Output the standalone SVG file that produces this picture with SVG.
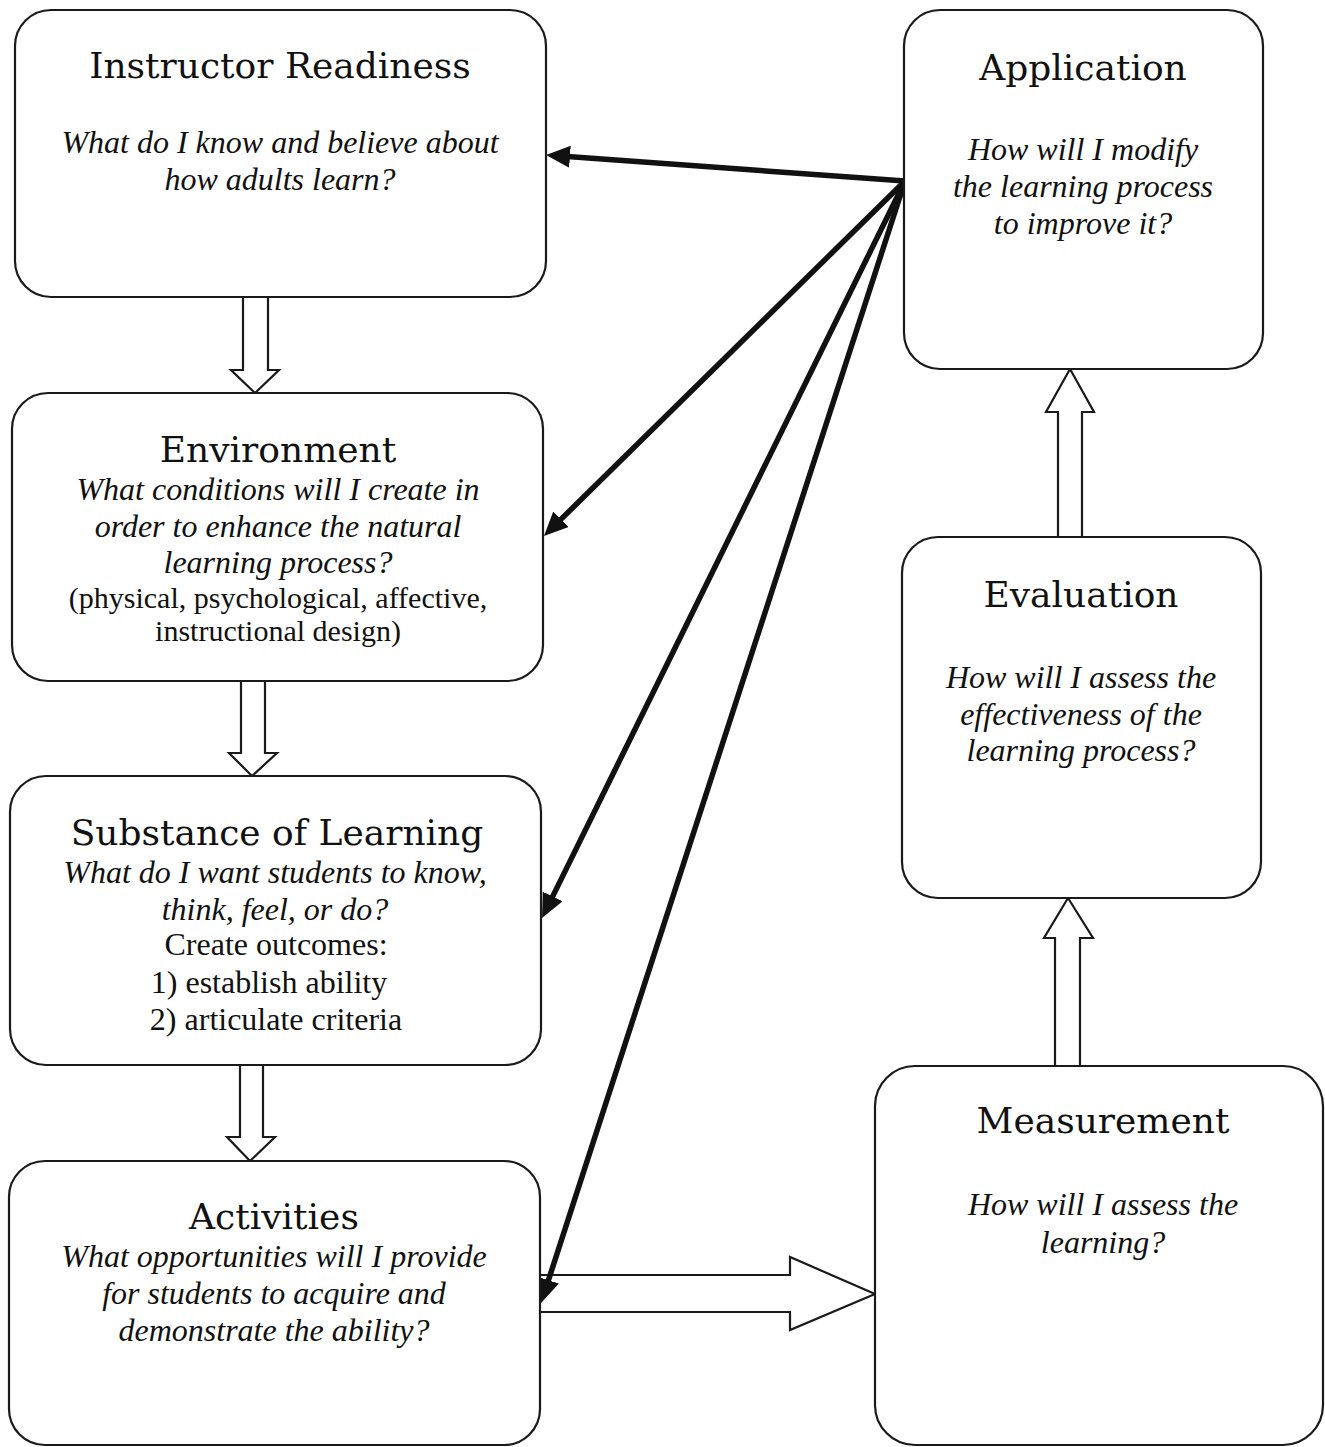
<svg xmlns="http://www.w3.org/2000/svg" width="1325" height="1447" viewBox="0 0 1325 1447">
<style>
.box{fill:#fff;stroke:#1a1a1a;stroke-width:2.2}
.title{font-family:"DejaVu Serif","Liberation Serif",serif;font-size:36px;fill:#111;text-anchor:middle}
.q{font-family:"Liberation Serif","Times New Roman",serif;font-style:italic;font-size:32px;fill:#111;text-anchor:middle}
.r{font-family:"Liberation Serif","Times New Roman",serif;font-size:32px;fill:#111;text-anchor:middle}
.block{fill:#fff;stroke:#1a1a1a;stroke-width:2.2;stroke-linejoin:miter}
.conn{stroke:#111;stroke-width:5.5;fill:none}
</style>
<defs>
<marker id="ah" markerUnits="userSpaceOnUse" markerWidth="26" markerHeight="24" refX="6" refY="11" orient="auto">
<path d="M0,0 L24,11 L0,22 z" fill="#111"/>
</marker>
</defs>
<rect width="1325" height="1447" fill="#fff"/>

<g id="connectors">
<path class="block" d="M243,297 L243,370 L231,370 L255,393 L279,370 L268,370 L268,297"/>
<path class="block" d="M241,681 L241,753 L229,753 L252,776 L277,753 L265,753 L265,681"/>
<path class="block" d="M240,1065 L240,1137 L227,1137 L250,1161 L275,1137 L263,1137 L263,1065"/>
<path class="block" d="M1058,537 L1058,412 L1046,412 L1070,369 L1094,412 L1082,412 L1082,537"/>
<path class="block" d="M1055,1066 L1055,938 L1044,938 L1068,898 L1093,938 L1080,938 L1080,1066"/>
<path class="block" d="M540,1275 L790,1275 L790,1257 L875,1294 L790,1330 L790,1312 L540,1312"/>
<line class="conn" x1="905" y1="181" x2="564" y2="156.3" marker-end="url(#ah)"/>
<line class="conn" x1="905" y1="181" x2="556.8" y2="523.4" marker-end="url(#ah)"/>
<line class="conn" x1="905" y1="181" x2="550" y2="901.9" marker-end="url(#ah)"/>
<line class="conn" x1="905" y1="181" x2="546.6" y2="1285.9" marker-end="url(#ah)"/>
</g>

<g id="instructor-readiness">
<rect class="box" x="15" y="10" width="531" height="287" rx="36"/>
<text class="title" x="280" y="78">Instructor Readiness</text>
<text class="q" x="280" y="153">What do I know and believe about</text>
<text class="q" x="280" y="190">how adults learn?</text>
</g>

<g id="environment">
<rect class="box" x="12" y="393" width="531" height="288" rx="36"/>
<text class="title" x="278" y="462">Environment</text>
<text class="q" x="278" y="500">What conditions will I create in</text>
<text class="q" x="278" y="537">order to enhance the natural</text>
<text class="q" x="278" y="573">learning process?</text>
<text class="r" x="278" y="608" style="font-size:30px">(physical, psychological, affective,</text>
<text class="r" x="278" y="641" style="font-size:30px">instructional design)</text>
</g>

<g id="substance-of-learning">
<rect class="box" x="10" y="776" width="531" height="289" rx="36"/>
<text class="title" x="277" y="845">Substance of Learning</text>
<text class="q" x="275" y="883">What do I want students to know,</text>
<text class="q" x="275" y="920">think, feel, or do?</text>
<text class="r" x="276" y="955">Create outcomes:</text>
<text class="r" x="269" y="993">1) establish ability</text>
<text class="r" x="276" y="1030">2) articulate criteria</text>
</g>

<g id="activities">
<rect class="box" x="9" y="1161" width="531" height="284" rx="36"/>
<text class="title" x="274" y="1229">Activities</text>
<text class="q" x="274" y="1267">What opportunities will I provide</text>
<text class="q" x="274" y="1304">for students to acquire and</text>
<text class="q" x="274" y="1341">demonstrate the ability?</text>
</g>

<g id="application">
<rect class="box" x="904" y="10" width="359" height="359" rx="36"/>
<text class="title" x="1083" y="80">Application</text>
<text class="q" x="1083" y="160">How will I modify</text>
<text class="q" x="1083" y="197">the learning process</text>
<text class="q" x="1083" y="234">to improve it?</text>
</g>

<g id="evaluation">
<rect class="box" x="902" y="537" width="359" height="361" rx="36"/>
<text class="title" x="1081" y="607">Evaluation</text>
<text class="q" x="1081" y="688">How will I assess the</text>
<text class="q" x="1081" y="725">effectiveness of the</text>
<text class="q" x="1081" y="761">learning process?</text>
</g>

<g id="measurement">
<rect class="box" x="875" y="1066" width="448" height="379" rx="40"/>
<text class="title" x="1103" y="1133">Measurement</text>
<text class="q" x="1103" y="1215">How will I assess the</text>
<text class="q" x="1103" y="1253">learning?</text>
</g>
</svg>
